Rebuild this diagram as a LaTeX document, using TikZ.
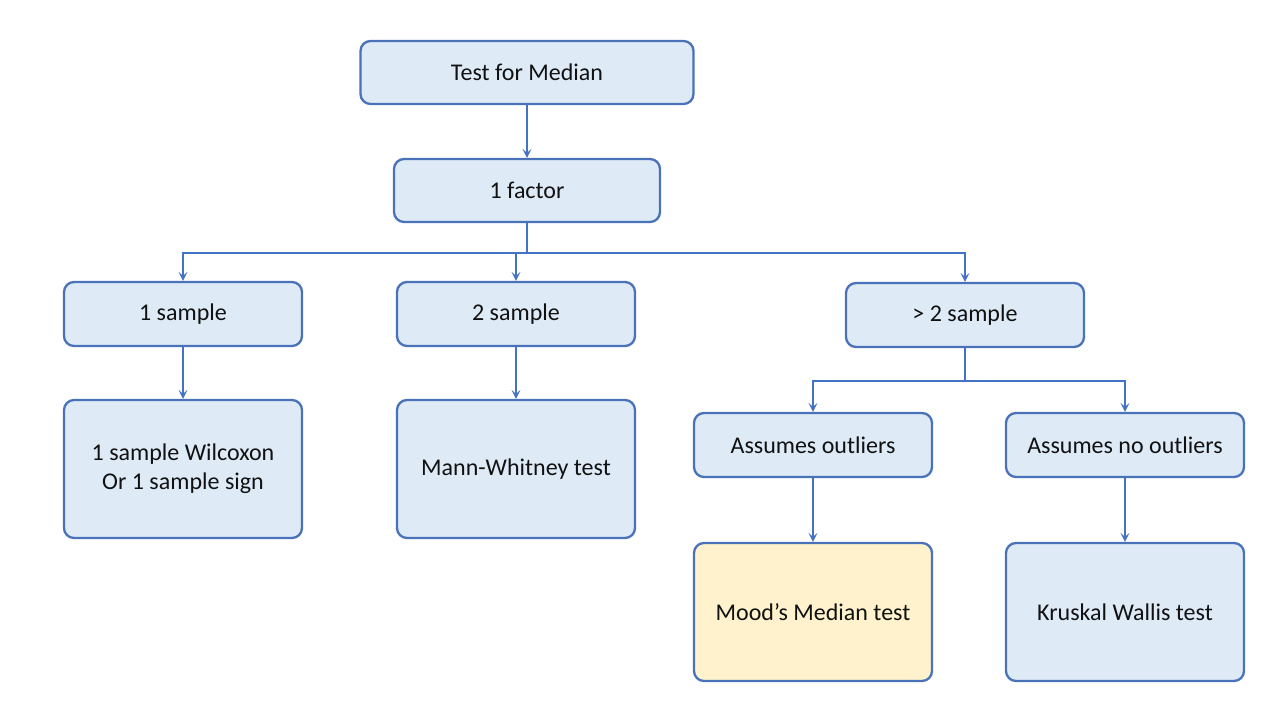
\documentclass[tikz,border=0pt]{standalone}
\usepackage{fontspec}
\setmainfont{Carlito}
\usepackage{tikz}
\usepackage{xcolor}
\usetikzlibrary{
  positioning,
  arrows.meta,
}
\definecolor{cFill}   {HTML}{DEEBF7}
\definecolor{cPick}   {HTML}{FFF2CC}
\definecolor{cBorder} {HTML}{4A72B8}
\definecolor{cLine}   {HTML}{4472C4}
\definecolor{cText}   {HTML}{111111}

\begin{document}
\begin{tikzpicture}[
  x=1pt, y=-1pt,
  font=\fontsize{24}{29}\selectfont,
  >={Stealth[length=9pt, width=9pt, inset=4pt]},
  every node/.style={align=center, text=cText},
  %
  testbox/.style={
    draw=cBorder, fill=#1, line width=2.3pt,
    rounded corners=10pt, inner sep=4pt,
    minimum width=238pt, minimum height=64pt,
  },
  testbox/.default=cFill,
  tallbox/.style={testbox=#1, minimum height=138pt},
  tallbox/.default=cFill,
  arr/.style={->, line width=1.2pt, draw=cLine},
  link/.style={line width=1.2pt, draw=cLine},
]
\useasboundingbox (0,0) rectangle (1280,720);

% ────────────── TOP ────────────────────────────────────────────────────────
\node[testbox, minimum width=333pt, minimum height=63pt] (median) at (527,72.5) {Test for Median};
\node[testbox, minimum width=266pt, minimum height=63pt] (factor) at (527,190.5) {1 factor};

% ────────────── SAMPLE ROW ─────────────────────────────────────────────────
\node[testbox] (onesmp) at (183,314) {1 sample};
\node[testbox] (twosmp) at (516,314) {2 sample};
\node[testbox] (moresmp) at (965,315) {> 2 sample};

% ────────────── TESTS ──────────────────────────────────────────────────────
\node[tallbox] (wilcox) at (183,469) {1 sample Wilcoxon\\Or 1 sample sign};
\node[tallbox] (mannw) at (516,469) {Mann-Whitney test};

\node[testbox] (outl) at (813,445) {Assumes outliers};
\node[testbox] (nooutl) at (1125,445) {Assumes no outliers};
\node[tallbox=cPick] (mood) at (813,612) {Mood’s Median test};
\node[tallbox] (kruskal) at (1125,612) {Kruskal Wallis test};

% ────────────── ARROWS ─────────────────────────────────────────────────────
\draw[arr] (median.south) -- (factor.north);

\coordinate (fsplit) at (factor.south |- 0,253);
\draw[link] (factor.south) -- (fsplit);
\draw[arr] (fsplit) -| (onesmp.north);
\draw[arr] (fsplit) -| (twosmp.north);
\draw[arr] (fsplit) -| (moresmp.north);

\draw[arr] (onesmp.south) -- (wilcox.north);
\draw[arr] (twosmp.south) -- (mannw.north);

% >2 sample splits in two
\coordinate (msplit) at (moresmp.south |- 0,381);
\draw[link] (moresmp.south) -- (msplit);
\draw[arr] (msplit) -| (outl.north);
\draw[arr] (msplit) -| (nooutl.north);

\draw[arr] (outl.south) -- (mood.north);
\draw[arr] (nooutl.south) -- (kruskal.north);

\end{tikzpicture}
\end{document}
